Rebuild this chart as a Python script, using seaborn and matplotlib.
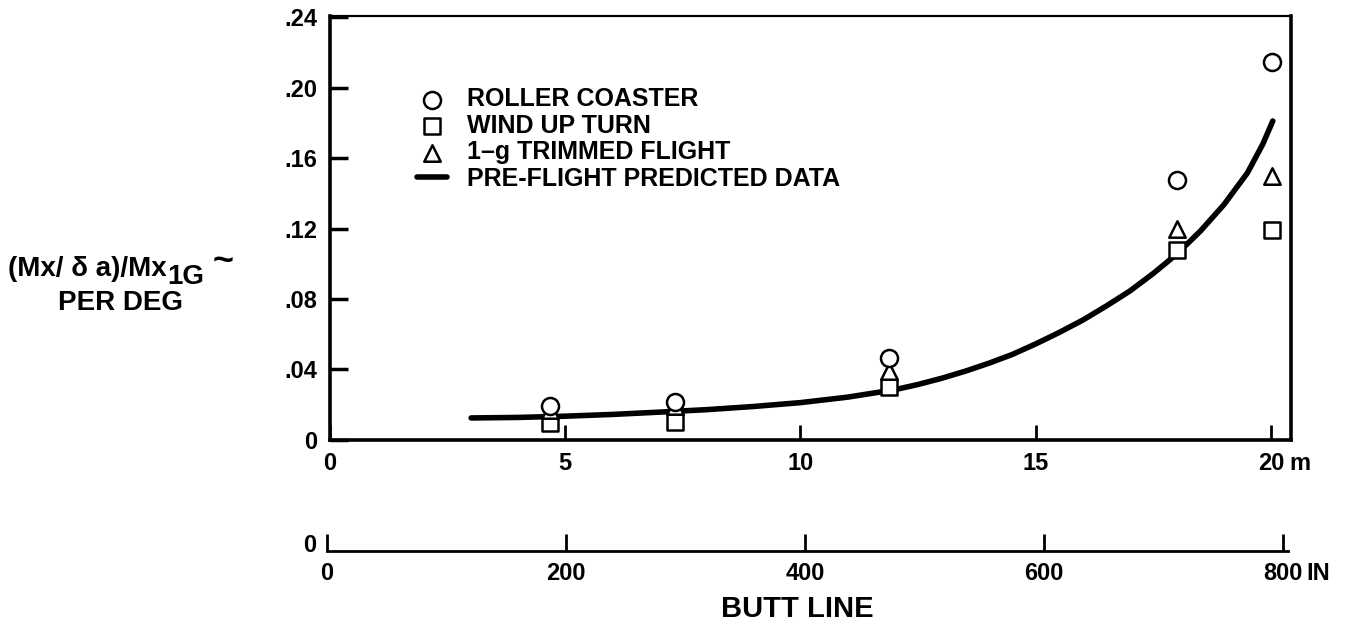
#!/usr/bin/env python3
"""
Roll moment ratio vs butt line, flight data vs pre-flight prediction
"""

import pandas as pd
import seaborn as sns
import matplotlib.pyplot as plt

# ---- data (butt line in metres) ----
station_m = [4.68, 7.33, 11.88, 18.0, 20.02]
roller_coaster = [0.0193, 0.0216, 0.0465, 0.1475, 0.2145]
wind_up_turn = [0.0096, 0.0102, 0.0303, 0.1080, 0.1190]
trimmed_1g = [0.0170, 0.0193, 0.0390, 0.1200, 0.1500]

pred_m = [3.0, 4.0, 5.0, 6.0, 7.0, 8.0, 9.0, 10.0, 11.0, 12.0, 12.5, 13.0,
          13.5, 14.0, 14.5, 15.0, 15.5, 16.0, 16.5, 17.0, 17.5, 18.0, 18.5,
          19.0, 19.5, 19.83, 20.04]
pred_val = [0.0125, 0.0128, 0.0135, 0.0145, 0.0158, 0.0172, 0.0190, 0.0212,
            0.0243, 0.0285, 0.0315, 0.0350, 0.0390, 0.0435, 0.0485, 0.0545,
            0.0610, 0.0680, 0.0760, 0.0845, 0.0945, 0.1055, 0.1185, 0.1335,
            0.1515, 0.1680, 0.1810]

m_ticks = [0, 5, 10, 15, 20]
m_labels = ['0', '5', '10', '15', '20']
y_ticks = [0, 0.04, 0.08, 0.12, 0.16, 0.20, 0.24]
y_labels = ['0', '.04', '.08', '.12', '.16', '.20', '.24']
in_ticks = [0, 200, 400, 600, 800]
in_labels = ['0', '200', '400', '600', '800']

# name, values, marker, size, draw order
series = [
    ('ROLLER COASTER', roller_coaster, 'o', 150, 6),
    ('WIND UP TURN', wind_up_turn, 's', 120, 4),
    ('1\u2013g TRIMMED FLIGHT', trimmed_1g, '^', 140, 5),
]

FS = 17


def px(x, y):
    # pixel position (from top-left) to figure fraction
    return x / 1364, 1 - y / 629


def main():
    sns.set_theme(style="white")
    plt.rcParams.update({
        "font.family": ["Liberation Sans", "DejaVu Sans"],
        "font.weight": "bold",
        "text.color": "black",
        "xtick.color": "black",
        "ytick.color": "black",
    })

    fig = plt.figure(figsize=(13.64, 6.29), dpi=100)
    ax = fig.add_axes([0.2419, 0.3005, 0.7045, 0.6741])

    for name, vals, mk, size, z in series:
        df = pd.DataFrame({'butt': station_m, 'ratio': vals})
        sns.scatterplot(data=df, x='butt', y='ratio', marker=mk, s=size,
                        facecolor='white', edgecolor='black', linewidth=1.8,
                        ax=ax, label=name, zorder=z)

    pred = pd.DataFrame({'butt': pred_m, 'ratio': pred_val})
    sns.lineplot(data=pred, x='butt', y='ratio', color='black', linewidth=4,
                 ax=ax, label='PRE-FLIGHT PREDICTED DATA', zorder=3)
    ax.lines[-1].set_solid_capstyle('round')
    ax.lines[-1].set_solid_joinstyle('round')

    ax.set_xlim(0, 20.425)
    ax.set_ylim(0, 0.2406)
    ax.set_xticks(m_ticks)
    ax.set_xticklabels(m_labels)
    ax.set_yticks(y_ticks)
    ax.set_yticklabels(y_labels)
    ax.set_xlabel('')
    ax.set_ylabel('')
    ax.tick_params(axis='x', direction='in', length=11, width=2, pad=9,
                   labelsize=FS, bottom=True)
    ax.tick_params(axis='y', direction='in', length=13, width=2.5, pad=9,
                   labelsize=FS, left=True)
    for lbl in ax.get_xticklabels() + ax.get_yticklabels():
        lbl.set_fontweight('bold')

    for side in ['left', 'bottom', 'right']:
        ax.spines[side].set_linewidth(2.6)
        ax.spines[side].set_color('black')
    ax.spines['top'].set_linewidth(1.6)
    ax.spines['top'].set_color('black')

    # unit after the last metre label
    ax.annotate('m', xy=(20, 0), xycoords=('data', 'axes fraction'),
                xytext=(13, -9), textcoords='offset points',
                ha='left', va='top', fontsize=FS, fontweight='bold')

    # legend: circle, square, triangle, line
    handles, labels = ax.get_legend_handles_labels()
    order = [labels.index(s[0]) for s in series] + [labels.index('PRE-FLIGHT PREDICTED DATA')]
    ax.legend([handles[i] for i in order], [labels[i] for i in order],
              loc='upper left', bbox_to_anchor=(0.0905, 0.832), frameon=False,
              handlelength=1.2, handletextpad=0.8, labelspacing=0.1,
              borderpad=0, borderaxespad=0,
              prop={'weight': 'bold', 'size': 18})

    # y label, two lines; subscript built from separate texts
    t1 = fig.text(*px(8, 276), '(Mx/ \u03b4 a)/Mx', ha='left', va='baseline',
                  fontsize=20, fontweight='bold')
    t2 = fig.text(0, 0, '1G', fontsize=20, fontweight='bold', ha='left',
                  va='baseline')
    fig.canvas.draw()
    bb = t1.get_window_extent()
    t2.set_position(((bb.x1 + 1) / 1364, 1 - 284 / 629))
    fig.canvas.draw()
    bb2 = t2.get_window_extent()
    fig.text((bb2.x1 + 8) / 1364, 1 - 262 / 629, '~', ha='left', va='center',
             fontsize=26, fontweight='bold')
    fig.text(*px(120, 303), 'PER DEG', ha='center', va='center',
             fontsize=20, fontweight='bold')

    # second scale in inches
    ax2 = fig.add_axes([0.2397, 0.124, 0.7045, 0.001])
    ax2.set_xlim(0, 804)
    ax2.set_ylim(0, 1)
    ax2.set_yticks([])
    ax2.set_xticks(in_ticks)
    ax2.set_xticklabels(in_labels)
    ax2.tick_params(axis='x', direction='in', length=12, width=2, pad=8,
                    labelsize=FS, bottom=True)
    for lbl in ax2.get_xticklabels():
        lbl.set_fontweight('bold')
    for side in ['left', 'top', 'right']:
        ax2.spines[side].set_visible(False)
    ax2.spines['bottom'].set_linewidth(2.0)
    ax2.spines['bottom'].set_color('black')
    ax2.patch.set_alpha(0)
    ax2.annotate('IN', xy=(800, 0), xycoords=('data', 'axes fraction'),
                 xytext=(17, -8), textcoords='offset points',
                 ha='left', va='top', fontsize=FS, fontweight='bold')
    fig.text(*px(310, 545), '0', ha='center', va='center', fontsize=FS,
             fontweight='bold')
    fig.text(*px(797, 609), 'BUTT LINE', ha='center', va='center',
             fontsize=21, fontweight='bold')

    fig.savefig('out.png', dpi=100, facecolor='white')


if __name__ == "__main__":
    main()
